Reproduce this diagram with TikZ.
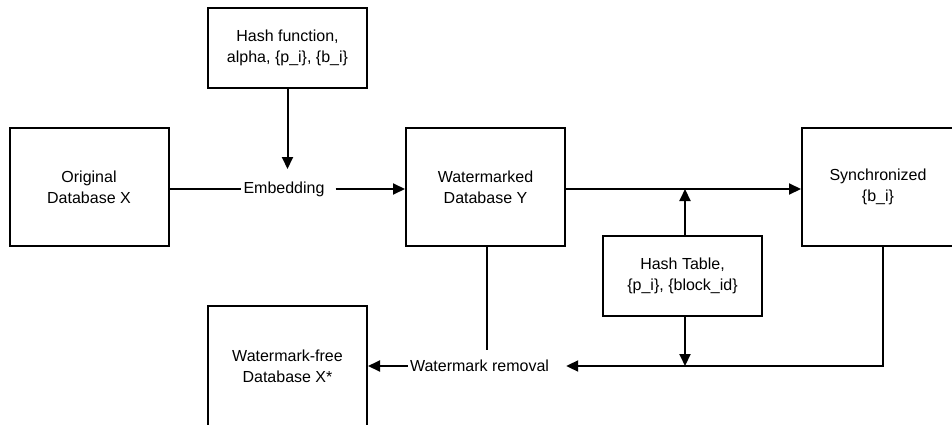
\documentclass[tikz,border=0pt]{standalone}
\usepackage{fontspec}
\setmainfont{Liberation Sans}
\usetikzlibrary{arrows.meta}
\begin{document}
\begin{tikzpicture}[x=1pt,y=-1pt,
  txt/.style={font=\fontsize{16}{21}\selectfont},
  box/.style={txt, draw, line width=2pt, minimum width=159pt,
    minimum height=118pt, align=center, inner sep=0pt},
  smallbox/.style={box, minimum height=80pt},
  lbl/.style={txt, inner sep=0pt},
  link/.style={line width=2pt},
  arr/.style={link, -{Triangle[length=12pt,width=11pt]}}]
  \useasboundingbox (0,0) rectangle (952,425);
  \clip (0,0) rectangle (952,425);

  % blocks
  \node[box] (orig) at (89,187) {Original\\Database X};
  \node[box] (wm) at (485.5,187) {Watermarked\\Database Y};
  \node[box, minimum width=152pt] (sync) at (878,187) {Synchronized\\\{b\_i\}};
  \node[smallbox] (hashf) at (287.5,48) {Hash function,\\alpha, \{p\_i\}, \{b\_i\}};
  \node[smallbox] (htab) at (682.5,276) {Hash Table,\\\{p\_i\}, \{block\_id\}};
  \node[box, minimum height=120pt] (free) at (287.5,366) {Watermark-free\\Database X*};

  % operation labels
  \node[lbl] (emb) at (284,189) {Embedding};
  \node[lbl] (rem) at (479.5,366) {Watermark removal};

  % helper points
  \coordinate (embtop) at (287.5,169);
  \coordinate (hx) at (685,0);
  \coordinate (sx) at (883,0);
  \coordinate (remtop) at (487,350);

  % embedding path
  \draw[arr] (hashf) -- (embtop);
  \draw[link] (orig.east |- emb) -- ([xshift=-2pt]emb.west);
  \draw[arr] ([xshift=11pt]emb.east) -- (wm.west |- emb);

  % synchronisation path
  \draw[arr] (wm.east |- emb) -- (sync.west |- emb);
  \draw[arr] (htab.north -| hx) -- (hx |- emb);
  \draw[arr] (htab.south -| hx) -- (hx |- rem);

  % removal path
  \draw[link] (wm.south -| remtop) -- (remtop);
  \draw[arr] (sync.south -| sx) |- ([xshift=17pt]rem.east);
  \draw[arr] ([xshift=-2pt]rem.west) -- (free.east |- rem);
\end{tikzpicture}
\end{document}
